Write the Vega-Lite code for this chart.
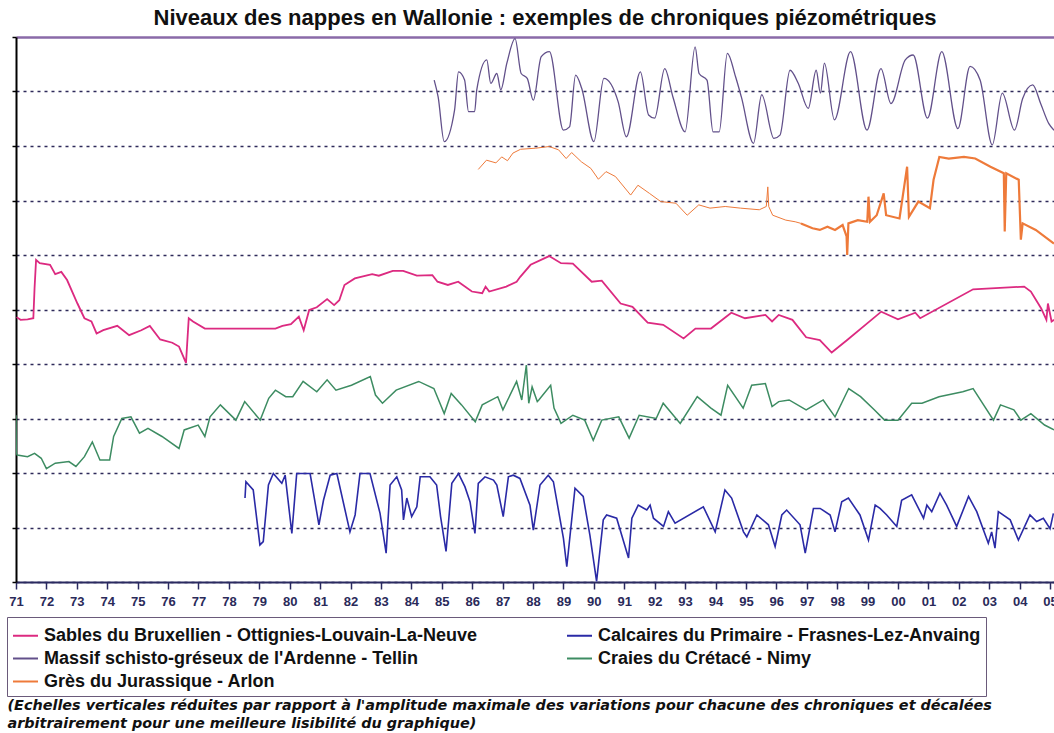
{
  "$schema": "https://vega.github.io/schema/vega-lite/v6.json",
  "width": 1038,
  "height": 545,
  "autosize": "none",
  "padding": {"left": 16, "top": 37, "right": 0, "bottom": 151},
  "background": "white",
  "config": {"view": {"stroke": null}, "font": "Liberation Sans"},
  "title": {
    "text": "Niveaux des nappes en Wallonie : exemples de chroniques piézométriques",
    "font": "Liberation Sans", "fontSize": 22, "fontWeight": "bold", "color": "#111111",
    "offset": 6, "dx": 10
  },
  "encoding": {
    "x": {
      "field": "annee", "type": "quantitative",
      "scale": {"domain": [1971, 2005.13], "nice": false, "zero": false},
      "axis": {
        "values": [1971,1972,1973,1974,1975,1976,1977,1978,1979,1980,1981,1982,1983,1984,1985,1986,1987,1988,1989,1990,1991,1992,1993,1994,1995,1996,1997,1998,1999,2000,2001,2002,2003,2004,2005],
        "labelExpr": "substring(toString(datum.value), 2, 4)",
        "grid": false,
        "domainColor": "#2a2a60", "domainWidth": 2,
        "tickColor": "#2a2a60", "tickSize": 7, "tickWidth": 1.5,
        "labelFont": "Liberation Sans", "labelFontWeight": "bold", "labelFontSize": 13, "labelColor": "#2a2a5a",
        "labelPadding": 6, "labelFlush": false, "labelOverlap": false,
        "title": ["(Echelles verticales réduites par rapport à l'amplitude maximale des variations pour chacune des chroniques et décalées", "arbitrairement pour une meilleure lisibilité du graphique)"],
        "titleAnchor": "start", "titleAlign": "left", "titleX": -9, "titleY": 127, "titleBaseline": "alphabetic",
        "titleFont": "DejaVu Sans", "titleFontSize": 14.4, "titleFontStyle": "italic", "titleFontWeight": "bold",
        "titleLineHeight": 18, "titleColor": "#111111", "titleLimit": 0
      }
    },
    "y": {
      "field": "niveau", "type": "quantitative",
      "scale": {"domain": [0, 10], "nice": false, "zero": false},
      "axis": {
        "values": [0,1,2,3,4,5,6,7,8,9,10],
        "labels": false, "title": null,
        "domainColor": "#000000", "domainWidth": 2,
        "tickColor": "#000000", "tickSize": 4, "tickWidth": 1.5,
        "grid": true,
        "gridColor": {"condition": {"test": "datum.value === 10", "value": "#8a6aa8"}, "value": "#2e2a5a"},
        "gridDash": {"condition": {"test": "datum.value === 10", "value": []}, "value": [3, 4]},
        "gridWidth": {"condition": {"test": "datum.value === 10", "value": 2.6}, "value": 1.6}
      }
    }
  },
  "layer": [
    {
      "data": {"values": [
        {"annee":1971.02,"niveau":4.86},{"annee":1971.15,"niveau":4.81},{"annee":1971.38,"niveau":4.82},{"annee":1971.57,"niveau":4.84},
        {"annee":1971.61,"niveau":5.39},{"annee":1971.66,"niveau":5.91},{"annee":1971.78,"niveau":5.85},{"annee":1972.12,"niveau":5.82},
        {"annee":1972.29,"niveau":5.65},{"annee":1972.49,"niveau":5.69},{"annee":1972.68,"niveau":5.54},{"annee":1973.02,"niveau":5.11},
        {"annee":1973.25,"niveau":4.84},{"annee":1973.48,"niveau":4.78},{"annee":1973.65,"niveau":4.56},{"annee":1973.87,"niveau":4.62},
        {"annee":1974.33,"niveau":4.70},{"annee":1974.72,"niveau":4.53},{"annee":1975.12,"niveau":4.62},{"annee":1975.40,"niveau":4.70},
        {"annee":1975.74,"niveau":4.45},{"annee":1976.14,"niveau":4.39},{"annee":1976.36,"niveau":4.32},{"annee":1976.59,"niveau":4.02},
        {"annee":1976.68,"niveau":4.84},{"annee":1976.82,"niveau":4.78},{"annee":1977.21,"niveau":4.65},{"annee":1979.53,"niveau":4.65},
        {"annee":1979.76,"niveau":4.70},{"annee":1980.04,"niveau":4.73},{"annee":1980.30,"niveau":4.87},{"annee":1980.46,"niveau":4.62},
        {"annee":1980.64,"niveau":4.99},{"annee":1980.89,"niveau":5.04},{"annee":1981.23,"niveau":5.19},{"annee":1981.46,"niveau":5.08},
        {"annee":1981.63,"niveau":5.17},{"annee":1981.80,"niveau":5.45},{"annee":1982.14,"niveau":5.57},{"annee":1982.71,"niveau":5.65},
        {"annee":1982.93,"niveau":5.62},{"annee":1983.39,"niveau":5.71},{"annee":1983.73,"niveau":5.71},{"annee":1984.18,"niveau":5.62},
        {"annee":1984.69,"niveau":5.63},{"annee":1984.86,"niveau":5.51},{"annee":1985.20,"niveau":5.45},{"annee":1985.54,"niveau":5.51},
        {"annee":1985.99,"niveau":5.33},{"annee":1986.33,"niveau":5.30},{"annee":1986.44,"niveau":5.42},{"annee":1986.56,"niveau":5.33},
        {"annee":1987.12,"niveau":5.42},{"annee":1987.46,"niveau":5.51},{"annee":1987.58,"niveau":5.60},{"annee":1987.92,"niveau":5.82},
        {"annee":1988.53,"niveau":5.98},{"annee":1988.92,"niveau":5.85},{"annee":1989.31,"niveau":5.84},{"annee":1989.93,"niveau":5.51},
        {"annee":1990.26,"niveau":5.53},{"annee":1990.88,"niveau":5.11},{"annee":1991.27,"niveau":5.05},{"annee":1991.77,"niveau":4.76},
        {"annee":1992.28,"niveau":4.72},{"annee":1992.95,"niveau":4.47},{"annee":1993.34,"niveau":4.65},{"annee":1993.85,"niveau":4.65},
        {"annee":1994.52,"niveau":4.94},{"annee":1994.97,"niveau":4.84},{"annee":1995.64,"niveau":4.90},{"annee":1995.86,"niveau":4.78},
        {"annee":1996.08,"niveau":4.90},{"annee":1996.53,"niveau":4.81},{"annee":1996.98,"niveau":4.49},{"annee":1997.43,"niveau":4.44},
        {"annee":1997.82,"niveau":4.21},{"annee":1998.33,"niveau":4.44},{"annee":1999.45,"niveau":4.96},{"annee":2000.00,"niveau":4.82},
        {"annee":2000.57,"niveau":4.94},{"annee":2000.73,"niveau":4.84},{"annee":2002.47,"niveau":5.37},{"annee":2004.15,"niveau":5.42},
        {"annee":2004.37,"niveau":5.33},{"annee":2004.71,"niveau":5.02},{"annee":2004.88,"niveau":4.81},{"annee":2004.93,"niveau":5.11},
        {"annee":2005.05,"niveau":4.78},{"annee":2005.13,"niveau":4.81}
      ]},
      "mark": {"type": "line", "strokeWidth": 1.8, "clip": true},
      "encoding": {
        "color": {
          "datum": "Sables du Bruxellien - Ottignies-Louvain-La-Neuve",
          "type": "nominal",
          "scale": {
            "domain": ["Sables du Bruxellien - Ottignies-Louvain-La-Neuve", "Calcaires du Primaire - Frasnes-Lez-Anvaing", "Massif schisto-gréseux de l'Ardenne - Tellin", "Craies du Crétacé - Nimy", "Grès du Jurassique - Arlon"],
            "range": ["#dc2a80", "#2a2aa6", "#62508a", "#3d8c62", "#ee7a3a"]
          },
          "legend": {
            "orient": "none", "legendX": -9, "legendY": 580,
            "direction": "horizontal", "columns": 2, "title": null,
            "symbolType": "stroke", "symbolSize": 625, "symbolStrokeWidth": 2,
            "labelFont": "Liberation Sans", "labelFontSize": 18, "labelFontWeight": "bold", "labelColor": "#111111",
            "labelLimit": 0, "labelOffset": 5, "columnPadding": 85, "rowPadding": -3, "padding": 5,
            "strokeColor": "#6a5a7a", "fillColor": "white", "gridAlign": "each"
          }
        }
      }
    },
    {
      "data": {"values": [
        {"annee":1971.00,"niveau":3.06},{"annee":1971.01,"niveau":2.36},{"annee":1971.04,"niveau":2.33},{"annee":1971.38,"niveau":2.30},
        {"annee":1971.61,"niveau":2.36},{"annee":1971.83,"niveau":2.27},{"annee":1972.00,"niveau":2.08},{"annee":1972.29,"niveau":2.18},
        {"annee":1972.74,"niveau":2.21},{"annee":1972.97,"niveau":2.12},{"annee":1973.25,"niveau":2.30},{"annee":1973.51,"niveau":2.57},
        {"annee":1973.76,"niveau":2.24},{"annee":1974.08,"niveau":2.24},{"annee":1974.21,"niveau":2.67},{"annee":1974.48,"niveau":3.00},
        {"annee":1974.78,"niveau":3.03},{"annee":1975.06,"niveau":2.73},{"annee":1975.34,"niveau":2.82},{"annee":1975.80,"niveau":2.67},
        {"annee":1976.36,"niveau":2.45},{"annee":1976.53,"niveau":2.79},{"annee":1976.99,"niveau":2.88},{"annee":1977.21,"niveau":2.67},
        {"annee":1977.38,"niveau":3.03},{"annee":1977.72,"niveau":3.25},{"annee":1978.23,"niveau":2.97},{"annee":1978.52,"niveau":3.31},
        {"annee":1979.03,"niveau":2.97},{"annee":1979.31,"niveau":3.37},{"annee":1979.53,"niveau":3.52},{"annee":1979.87,"niveau":3.40},
        {"annee":1980.10,"niveau":3.40},{"annee":1980.44,"niveau":3.68},{"annee":1980.89,"niveau":3.49},{"annee":1981.23,"niveau":3.71},
        {"annee":1981.52,"niveau":3.52},{"annee":1982.03,"niveau":3.61},{"annee":1982.65,"niveau":3.77},{"annee":1982.82,"niveau":3.43},
        {"annee":1983.05,"niveau":3.28},{"annee":1983.50,"niveau":3.52},{"annee":1984.24,"niveau":3.68},{"annee":1984.74,"niveau":3.55},
        {"annee":1985.08,"niveau":3.09},{"annee":1985.31,"niveau":3.46},{"annee":1985.65,"niveau":3.25},{"annee":1986.10,"niveau":2.94},
        {"annee":1986.33,"niveau":3.25},{"annee":1986.84,"niveau":3.40},{"annee":1987.01,"niveau":3.16},{"annee":1987.46,"niveau":3.68},
        {"annee":1987.63,"niveau":3.34},{"annee":1987.78,"niveau":3.98},{"annee":1987.86,"niveau":3.28},{"annee":1987.97,"niveau":3.58},
        {"annee":1988.14,"niveau":3.31},{"annee":1988.19,"niveau":3.34},{"annee":1988.58,"niveau":3.61},{"annee":1988.69,"niveau":3.19},
        {"annee":1988.92,"niveau":2.91},{"annee":1989.31,"niveau":3.06},{"annee":1989.70,"niveau":2.97},{"annee":1989.98,"niveau":2.60},
        {"annee":1990.26,"niveau":2.97},{"annee":1990.82,"niveau":3.03},{"annee":1991.16,"niveau":2.64},{"annee":1991.49,"niveau":3.06},
        {"annee":1992.05,"niveau":3.00},{"annee":1992.28,"niveau":3.28},{"annee":1992.84,"niveau":2.91},{"annee":1993.40,"niveau":3.40},
        {"annee":1993.85,"niveau":3.19},{"annee":1994.18,"niveau":3.06},{"annee":1994.40,"niveau":3.61},{"annee":1994.91,"niveau":3.19},
        {"annee":1995.19,"niveau":3.61},{"annee":1995.64,"niveau":3.64},{"annee":1995.86,"niveau":3.22},{"annee":1996.08,"niveau":3.31},
        {"annee":1996.42,"niveau":3.34},{"annee":1996.98,"niveau":3.16},{"annee":1997.54,"niveau":3.34},{"annee":1997.93,"niveau":3.03},
        {"annee":1998.38,"niveau":3.55},{"annee":1998.77,"niveau":3.40},{"annee":1999.22,"niveau":3.16},{"annee":1999.56,"niveau":2.97},
        {"annee":2000.00,"niveau":2.97},{"annee":2000.45,"niveau":3.28},{"annee":2000.79,"niveau":3.28},{"annee":2001.35,"niveau":3.40},
        {"annee":2002.13,"niveau":3.49},{"annee":2002.47,"niveau":3.55},{"annee":2003.14,"niveau":2.97},{"annee":2003.37,"niveau":3.25},
        {"annee":2003.81,"niveau":3.16},{"annee":2004.04,"niveau":2.97},{"annee":2004.37,"niveau":3.09},{"annee":2004.82,"niveau":2.88},
        {"annee":2005.13,"niveau":2.79}
      ]},
      "mark": {"type": "line", "strokeWidth": 1.5, "clip": true},
      "encoding": {"color": {"datum": "Craies du Crétacé - Nimy", "type": "nominal"}}
    },
    {
      "data": {"values": [
        {"annee":1978.53,"niveau":1.54},{"annee":1978.56,"niveau":1.84},{"annee":1978.80,"niveau":1.69},{"annee":1979.02,"niveau":0.68},
        {"annee":1979.13,"niveau":0.74},{"annee":1979.30,"niveau":1.78},{"annee":1979.46,"niveau":1.99},{"annee":1979.74,"niveau":1.81},
        {"annee":1979.85,"niveau":1.96},{"annee":1980.07,"niveau":0.89},{"annee":1980.23,"niveau":1.99},{"annee":1980.67,"niveau":1.99},
        {"annee":1980.96,"niveau":1.05},{"annee":1981.11,"niveau":1.50},{"annee":1981.33,"niveau":1.96},{"annee":1981.55,"niveau":1.99},
        {"annee":1981.98,"niveau":0.92},{"annee":1982.15,"niveau":1.23},{"annee":1982.31,"niveau":1.99},{"annee":1982.64,"niveau":1.99},
        {"annee":1982.97,"niveau":1.26},{"annee":1983.17,"niveau":0.53},{"annee":1983.30,"niveau":1.78},{"annee":1983.52,"niveau":1.93},
        {"annee":1983.68,"niveau":1.69},{"annee":1983.74,"niveau":1.14},{"annee":1983.85,"niveau":1.54},{"annee":1984.01,"niveau":1.20},
        {"annee":1984.18,"niveau":1.38},{"annee":1984.29,"niveau":1.93},{"annee":1984.61,"niveau":1.93},{"annee":1984.83,"niveau":1.78},
        {"annee":1984.96,"niveau":1.20},{"annee":1985.14,"niveau":0.56},{"annee":1985.33,"niveau":1.81},{"annee":1985.55,"niveau":1.99},
        {"annee":1985.76,"niveau":1.75},{"annee":1985.93,"niveau":1.47},{"annee":1986.09,"niveau":0.89},{"annee":1986.20,"niveau":1.81},
        {"annee":1986.42,"niveau":1.93},{"annee":1986.70,"niveau":1.87},{"annee":1986.81,"niveau":1.78},{"annee":1987.02,"niveau":1.20},
        {"annee":1987.19,"niveau":1.93},{"annee":1987.35,"niveau":1.96},{"annee":1987.57,"niveau":1.90},{"annee":1987.90,"niveau":1.41},
        {"annee":1988.01,"niveau":0.95},{"annee":1988.23,"niveau":1.78},{"annee":1988.50,"niveau":1.96},{"annee":1988.67,"niveau":1.84},
        {"annee":1989.00,"niveau":0.80},{"annee":1989.11,"niveau":0.28},{"annee":1989.38,"niveau":1.72},{"annee":1989.65,"niveau":1.57},
        {"annee":1989.87,"niveau":0.86},{"annee":1990.09,"niveau":0.01},{"annee":1990.31,"niveau":1.14},{"annee":1990.42,"niveau":1.23},
        {"annee":1990.75,"niveau":1.17},{"annee":1991.14,"niveau":0.44},{"annee":1991.25,"niveau":1.17},{"annee":1991.46,"niveau":1.41},
        {"annee":1991.74,"niveau":1.32},{"annee":1991.85,"niveau":1.41},{"annee":1991.96,"niveau":1.17},{"annee":1992.29,"niveau":1.02},
        {"annee":1992.45,"niveau":1.29},{"annee":1992.67,"niveau":1.08},{"annee":1993.60,"niveau":1.38},{"annee":1993.99,"niveau":0.92},
        {"annee":1994.31,"niveau":1.69},{"annee":1994.53,"niveau":1.54},{"annee":1994.92,"niveau":0.92},{"annee":1995.03,"niveau":0.83},
        {"annee":1995.36,"niveau":1.23},{"annee":1995.74,"niveau":1.05},{"annee":1995.96,"niveau":0.65},{"annee":1996.18,"niveau":1.23},
        {"annee":1996.34,"niveau":1.32},{"annee":1996.78,"niveau":1.05},{"annee":1996.95,"niveau":0.53},{"annee":1997.22,"niveau":1.35},
        {"annee":1997.44,"niveau":1.35},{"annee":1997.77,"niveau":1.23},{"annee":1997.93,"niveau":0.92},{"annee":1998.15,"niveau":1.47},
        {"annee":1998.37,"niveau":1.54},{"annee":1998.75,"niveau":1.23},{"annee":1999.03,"niveau":0.77},{"annee":1999.25,"niveau":1.41},
        {"annee":1999.41,"niveau":1.35},{"annee":1999.63,"niveau":1.23},{"annee":1999.96,"niveau":1.02},{"annee":2000.12,"niveau":1.50},
        {"annee":2000.45,"niveau":1.60},{"annee":2000.84,"niveau":1.17},{"annee":2000.95,"niveau":1.41},{"annee":2001.11,"niveau":1.29},
        {"annee":2001.38,"niveau":1.63},{"annee":2001.60,"niveau":1.41},{"annee":2001.93,"niveau":1.02},{"annee":2002.32,"niveau":1.57},
        {"annee":2002.59,"niveau":1.29},{"annee":2002.97,"niveau":0.71},{"annee":2003.08,"niveau":0.92},{"annee":2003.19,"niveau":0.62},
        {"annee":2003.30,"niveau":1.29},{"annee":2003.69,"niveau":1.14},{"annee":2003.96,"niveau":0.77},{"annee":2004.34,"niveau":1.23},
        {"annee":2004.56,"niveau":1.11},{"annee":2004.78,"niveau":1.17},{"annee":2005.00,"niveau":0.98},{"annee":2005.11,"niveau":1.26}
      ]},
      "mark": {"type": "line", "strokeWidth": 1.6, "clip": true},
      "encoding": {"color": {"datum": "Calcaires du Primaire - Frasnes-Lez-Anvaing", "type": "nominal"}}
    },
    {
      "data": {"values": [
        {"annee":1984.75,"niveau":9.21},{"annee":1984.88,"niveau":8.90},{"annee":1985.08,"niveau":8.08},{"annee":1985.42,"niveau":8.66},
        {"annee":1985.55,"niveau":9.36},{"annee":1985.75,"niveau":9.21},{"annee":1985.88,"niveau":8.63},{"annee":1986.08,"niveau":8.63},
        {"annee":1986.15,"niveau":9.03},{"annee":1986.48,"niveau":9.58},{"annee":1986.61,"niveau":9.15},{"annee":1986.81,"niveau":9.33},
        {"annee":1986.94,"niveau":9.03},{"annee":1987.14,"niveau":9.52},{"annee":1987.41,"niveau":9.97},{"annee":1987.61,"niveau":9.33},
        {"annee":1987.81,"niveau":9.24},{"annee":1988.01,"niveau":8.84},{"annee":1988.27,"niveau":9.64},{"annee":1988.54,"niveau":9.73},
        {"annee":1989.00,"niveau":8.29},{"annee":1989.20,"niveau":8.35},{"annee":1989.40,"niveau":9.30},{"annee":1989.60,"niveau":9.06},
        {"annee":1990.00,"niveau":8.08},{"annee":1990.33,"niveau":9.24},{"annee":1990.80,"niveau":8.81},{"annee":1991.07,"niveau":8.17},
        {"annee":1991.53,"niveau":9.36},{"annee":1991.80,"niveau":8.57},{"annee":1992.00,"niveau":8.51},{"annee":1992.33,"niveau":9.42},
        {"annee":1992.60,"niveau":8.90},{"annee":1993.00,"niveau":8.26},{"annee":1993.33,"niveau":9.82},{"annee":1993.46,"niveau":9.33},
        {"annee":1993.72,"niveau":9.21},{"annee":1993.92,"niveau":8.26},{"annee":1994.12,"niveau":8.26},{"annee":1994.39,"niveau":9.70},
        {"annee":1994.66,"niveau":9.27},{"annee":1994.85,"niveau":8.90},{"annee":1995.25,"niveau":8.05},{"annee":1995.52,"niveau":8.94},
        {"annee":1995.92,"niveau":8.14},{"annee":1996.12,"niveau":8.20},{"annee":1996.45,"niveau":9.39},{"annee":1996.72,"niveau":9.15},
        {"annee":1997.05,"niveau":8.69},{"annee":1997.31,"niveau":9.39},{"annee":1997.45,"niveau":8.97},{"annee":1997.58,"niveau":9.52},
        {"annee":1997.91,"niveau":8.48},{"annee":1998.44,"niveau":9.73},{"annee":1998.98,"niveau":8.29},{"annee":1999.44,"niveau":9.42},
        {"annee":1999.77,"niveau":8.78},{"annee":2000.24,"niveau":9.58},{"annee":2000.50,"niveau":9.67},{"annee":2000.97,"niveau":8.51},
        {"annee":2001.44,"niveau":9.73},{"annee":2001.97,"niveau":8.32},{"annee":2002.37,"niveau":9.46},{"annee":2002.70,"niveau":9.21},
        {"annee":2003.10,"niveau":8.02},{"annee":2003.43,"niveau":8.97},{"annee":2003.83,"niveau":8.29},{"annee":2004.10,"niveau":8.87},
        {"annee":2004.43,"niveau":9.12},{"annee":2004.69,"niveau":8.78},{"annee":2004.96,"niveau":8.41},{"annee":2005.13,"niveau":8.29}
      ]},
      "mark": {"type": "line", "strokeWidth": 1.3, "clip": true, "interpolate": "monotone"},
      "encoding": {"color": {"datum": "Massif schisto-gréseux de l'Ardenne - Tellin", "type": "nominal"}}
    },
    {
      "data": {"values": [
        {"annee":1986.20,"niveau":7.57},{"annee":1986.47,"niveau":7.74},{"annee":1986.78,"niveau":7.69},{"annee":1986.97,"niveau":7.80},
        {"annee":1987.16,"niveau":7.73},{"annee":1987.34,"niveau":7.87},{"annee":1987.59,"niveau":7.94},{"annee":1988.09,"niveau":7.96},
        {"annee":1988.53,"niveau":7.99},{"annee":1988.84,"niveau":7.93},{"annee":1989.09,"niveau":7.77},{"annee":1989.27,"niveau":7.88},
        {"annee":1989.59,"niveau":7.71},{"annee":1989.90,"niveau":7.59},{"annee":1990.15,"niveau":7.39},{"annee":1990.40,"niveau":7.53},
        {"annee":1990.71,"niveau":7.44},{"annee":1991.21,"niveau":7.10},{"annee":1991.45,"niveau":7.28},{"annee":1991.83,"niveau":7.13},
        {"annee":1992.20,"niveau":6.98},{"annee":1992.70,"niveau":6.95},{"annee":1993.07,"niveau":6.73},{"annee":1993.45,"niveau":6.92},
        {"annee":1993.82,"niveau":6.86},{"annee":1994.32,"niveau":6.89},{"annee":1994.82,"niveau":6.86},{"annee":1995.44,"niveau":6.83},
        {"annee":1995.67,"niveau":6.89},{"annee":1995.72,"niveau":7.25},{"annee":1995.75,"niveau":6.89},{"annee":1995.88,"niveau":6.73},
        {"annee":1996.31,"niveau":6.64},{"annee":1996.62,"niveau":6.61},{"annee":1996.81,"niveau":6.58}
      ]},
      "mark": {"type": "line", "strokeWidth": 1, "clip": true},
      "encoding": {"color": {"datum": "Grès du Jurassique - Arlon", "type": "nominal"}}
    },
    {
      "data": {"values": [
        {"annee":1996.81,"niveau":6.58},{"annee":1997.19,"niveau":6.49},{"annee":1997.43,"niveau":6.46},{"annee":1997.68,"niveau":6.52},
        {"annee":1997.93,"niveau":6.46},{"annee":1998.18,"niveau":6.55},{"annee":1998.31,"niveau":6.34},{"annee":1998.33,"niveau":6.00},
        {"annee":1998.37,"niveau":6.58},{"annee":1998.68,"niveau":6.64},{"annee":1998.99,"niveau":6.61},{"annee":1999.03,"niveau":7.07},
        {"annee":1999.08,"niveau":6.61},{"annee":1999.30,"niveau":6.73},{"annee":1999.53,"niveau":7.13},{"annee":1999.61,"niveau":6.73},
        {"annee":2000.05,"niveau":6.67},{"annee":2000.30,"niveau":7.62},{"annee":2000.36,"niveau":6.70},{"annee":2000.67,"niveau":6.98},
        {"annee":2001.05,"niveau":6.86},{"annee":2001.17,"niveau":7.38},{"annee":2001.36,"niveau":7.80},{"annee":2001.67,"niveau":7.77},
        {"annee":2002.17,"niveau":7.80},{"annee":2002.54,"niveau":7.77},{"annee":2003.04,"niveau":7.62},{"annee":2003.48,"niveau":7.50},
        {"annee":2003.51,"niveau":6.43},{"annee":2003.56,"niveau":7.50},{"annee":2003.97,"niveau":7.38},{"annee":2004.04,"niveau":6.28},
        {"annee":2004.10,"niveau":6.58},{"annee":2004.53,"niveau":6.46},{"annee":2005.13,"niveau":6.21}
      ]},
      "mark": {"type": "line", "strokeWidth": 2.2, "clip": true},
      "encoding": {"color": {"datum": "Grès du Jurassique - Arlon", "type": "nominal"}}
    }
  ]
}
